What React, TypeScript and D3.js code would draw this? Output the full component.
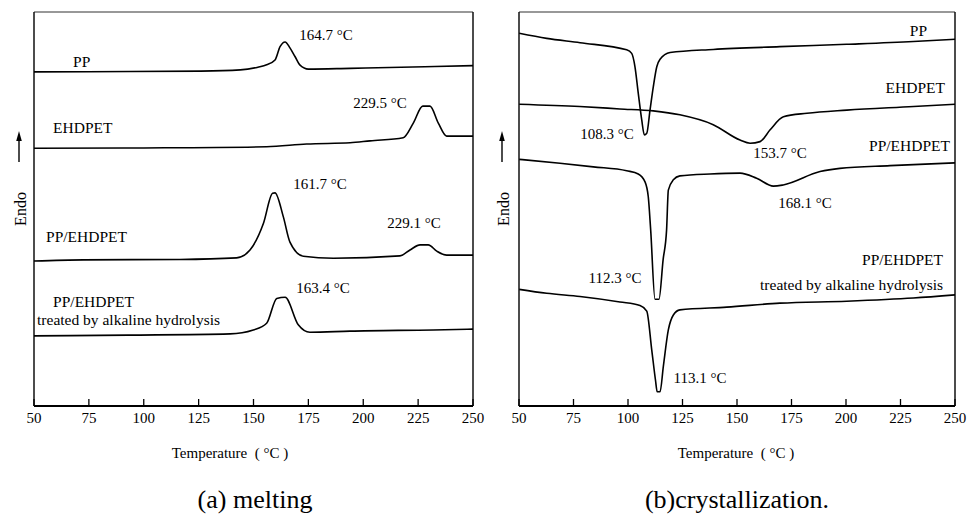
import React from "react";
import * as d3 from "d3";

// ---- axis ----
const TEMP_TICKS = [50, 75, 100, 125, 150, 175, 200, 225, 250];

// ---- (a) melting curves: temperature (°C) and heat flow (arb. units, endo up) ----
const meltPP_T = [50, 94, 126, 144, 152, 156, 159.8, 162.1, 164.4, 166.6, 168.9, 171.2, 175, 194, 228, 250];
const meltPP_V = [8.48, 8.49, 8.5, 8.53, 8.6, 8.66, 8.78, 9.12, 9.24, 9.09, 8.87, 8.65, 8.55, 8.57, 8.61, 8.64];

const meltEH_T = [50, 100, 156, 174.2, 194, 203.1, 218.2, 222.8, 227.1, 230.4, 234.2, 238, 250];
const meltEH_V = [6.54, 6.55, 6.58, 6.65, 6.68, 6.73, 6.81, 7.18, 7.61, 7.61, 7.18, 6.85, 6.85];

const meltBlend_T = [50, 72.5, 116.5, 142.3, 148.4, 154.5, 158.7, 159.8, 163.6, 166.6, 172.7, 186.4, 216.7, 221.3, 225.9, 229.6, 233.5, 238, 250];
const meltBlend_V = [3.68, 3.71, 3.72, 3.76, 3.96, 4.63, 5.4, 5.41, 4.8, 4.16, 3.8, 3.75, 3.81, 3.96, 4.09, 4.09, 3.93, 3.83, 3.83];

const meltTreated_T = [50, 92.9, 139.3, 149.9, 156, 160.6, 164.4, 170.4, 175.7, 194, 231.9, 250];
const meltTreated_V = [1.78, 1.8, 1.83, 1.93, 2.1, 2.73, 2.76, 2.06, 1.87, 1.9, 1.93, 1.95];

// ---- (b) crystallization curves ----
const crysPP_T = [50.1, 62.7, 78, 99.4, 101.7, 103.2, 104.7, 106.3, 107.5, 108.6, 110.1, 111.6, 113.2, 114.7, 119.3, 139.1, 169.7, 200.3, 230.9, 250];
const crysPP_V = [9.46, 9.33, 9.22, 9.04, 8.95, 8.61, 7.94, 7.26, 6.88, 6.92, 7.51, 8.1, 8.61, 8.8, 8.97, 9.05, 9.12, 9.18, 9.25, 9.31];

const crysEH_T = [50.1, 77.9, 96.3, 111.6, 123.8, 139.1, 151.4, 156, 160.6, 165.2, 171.3, 182.1, 200.4, 231, 250];
const crysEH_V = [7.66, 7.6, 7.54, 7.49, 7.39, 7.14, 6.75, 6.67, 6.71, 7.01, 7.34, 7.43, 7.51, 7.6, 7.66];

const crysBlend_T = [50.1, 68.8, 84.1, 99.4, 104.7, 107.8, 109.3, 110.4, 112.4, 114.2, 116.1, 117.7, 118.5, 120.8, 123.8, 137.6, 151.4, 159, 166.7, 171.2, 188.1, 197.2, 220.2, 250];
const crysBlend_V = [6.26, 6.16, 6.07, 5.97, 5.89, 5.69, 5.31, 4.47, 2.71, 2.71, 3.71, 4.47, 5.48, 5.74, 5.84, 5.89, 5.91, 5.78, 5.58, 5.61, 5.95, 6.03, 6.1, 6.17];

const crysTreated_T = [50.1, 62.7, 78, 96.3, 105.5, 108.6, 110.9, 112.6, 113.4, 114.7, 116.2, 118.5, 120.8, 123.8, 145.3, 169.7, 200.3, 230.9, 250];
const crysTreated_V = [2.96, 2.86, 2.78, 2.64, 2.55, 2.41, 1.42, 0.66, 0.36, 0.36, 1.0, 1.93, 2.31, 2.44, 2.51, 2.61, 2.66, 2.74, 2.82];

// ---- annotations (text, temperature, value) ----
const meltPeakLabels: [string, number, number][] = [
  ["164.7 °C", 183.0, 9.42],
  ["229.5 °C", 207.6, 7.69],
  ["161.7 °C", 180.3, 5.63],
  ["229.1 °C", 223.1, 4.64],
  ["163.4 °C", 181.7, 3.0],
];
const meltCurveLabels: [string, number, number][] = [
  ["PP", 67.8, 8.73],
  ["EHDPET", 58.7, 7.06],
  ["PP/EHDPET", 55.5, 4.29],
  ["PP/EHDPET", 58.7, 2.66],
  ["treated by alkaline hydrolysis", 51.4, 2.2],
];
const crysPeakLabels: [string, number, number][] = [
  ["108.3 °C", 90.4, 6.9],
  ["153.7 °C", 169.7, 6.42],
  ["168.1 °C", 181.2, 5.15],
  ["112.3 °C", 94.0, 3.25],
  ["113.1 °C", 133.0, 0.71],
];
const crysCurveLabels: [string, number, number][] = [
  ["PP", 237.2, 9.54],
  ["EHDPET", 245.4, 8.07],
  ["PP/EHDPET", 247.7, 6.6],
  ["PP/EHDPET", 244.5, 3.71],
  ["treated by alkaline hydrolysis", 244.5, 3.07],
];

const FONT = "'Liberation Serif', 'Times New Roman', Tinos, 'DejaVu Serif', serif";

type PanelProps = {
  x0: number;
  x1: number;
  curves: [number[], number[]][];
  peaks: [string, number, number][];
  names: [string, number, number][];
  nameAnchor: "start" | "end";
  endoX: number;
  xLabelX: number;
  caption: string;
  captionX: number;
};

const txt = (size: number) => ({ fontFamily: FONT, fontSize: size + "px" });

function Panel(p: PanelProps) {
  const top = 12;
  const bottom = 406;
  const x = d3.scaleLinear().domain([50, 250]).range([p.x0, p.x1]);
  const y = d3.scaleLinear().domain([0, 10]).range([bottom, top]);
  const line = d3
    .line<[number, number]>()
    .x((d) => x(d[0]))
    .y((d) => y(d[1]))
    .curve(d3.curveMonotoneX);

  return (
    <g>
      {/* frame */}
      <line x1={p.x0} x2={p.x1} y1={top} y2={top} stroke="#333" strokeWidth={1.2} />
      <line x1={p.x0} x2={p.x0} y1={top} y2={bottom} stroke="#111" strokeWidth={1.5} />
      <line x1={p.x1} x2={p.x1} y1={top} y2={bottom} stroke="#111" strokeWidth={1.5} />
      <line x1={p.x0} x2={p.x1} y1={bottom} y2={bottom} stroke="#000" strokeWidth={2} />
      {TEMP_TICKS.map((t) => (
        <g key={t}>
          <line x1={x(t)} x2={x(t)} y1={bottom} y2={bottom - 7} stroke="#000" strokeWidth={1.3} />
          <text x={x(t)} y={418} dy="0.35em" textAnchor="middle" style={txt(15)} fill="#000">
            {t}
          </text>
        </g>
      ))}
      {/* curves */}
      {p.curves.map(([ts, vs], i) => (
        <path
          key={i}
          d={line(ts.map((t, j) => [t, vs[j]] as [number, number])) || ""}
          fill="none"
          stroke="#000"
          strokeWidth={1.6}
          strokeLinejoin="round"
        />
      ))}
      {p.peaks.map(([s, t, v], i) => (
        <text key={"pk" + i} x={x(t)} y={y(v)} dy="0.35em" textAnchor="middle" style={txt(15)} fill="#000">
          {s}
        </text>
      ))}
      {p.names.map(([s, t, v], i) => (
        <text key={"nm" + i} x={x(t)} y={y(v)} dy="0.35em" textAnchor={p.nameAnchor} style={txt(15.5)} fill="#000">
          {s}
        </text>
      ))}
      {/* Endo arrow + label */}
      <line x1={p.endoX} x2={p.endoX} y1={162} y2={138} stroke="#000" strokeWidth={1.4} />
      <path d={`M${p.endoX},${131} L${p.endoX - 2.8},${141} L${p.endoX + 2.8},${141} Z`} fill="#000" />
      <text
        transform={`translate(${p.endoX + 1},${209}) rotate(-90)`}
        dy="0.35em"
        textAnchor="middle"
        style={txt(16)}
        fill="#000"
      >
        Endo
      </text>
      {/* axis title */}
      <text
        x={p.xLabelX}
        y={453}
        dy="0.35em"
        textAnchor="middle"
        style={{ ...txt(15), whiteSpace: "pre" }}
        fill="#000"
      >
        {"Temperature  ( °C )"}
      </text>
      <text x={p.captionX} y={499} dy="0.35em" textAnchor="middle" style={txt(26)} fill="#000">
        {p.caption}
      </text>
    </g>
  );
}

export default function App() {
  const meltCurves: [number[], number[]][] = [
    [meltPP_T, meltPP_V],
    [meltEH_T, meltEH_V],
    [meltBlend_T, meltBlend_V],
    [meltTreated_T, meltTreated_V],
  ];
  const crysCurves: [number[], number[]][] = [
    [crysPP_T, crysPP_V],
    [crysEH_T, crysEH_V],
    [crysBlend_T, crysBlend_V],
    [crysTreated_T, crysTreated_V],
  ];
  return (
    <svg width={973} height={514} style={{ position: "absolute", left: 0, top: 0, background: "#fff" }}>
      <rect x={0} y={0} width={973} height={514} fill="#fff" />
      <Panel
        x0={34}
        x1={473}
        curves={meltCurves}
        peaks={meltPeakLabels}
        names={meltCurveLabels}
        nameAnchor="start"
        endoX={19}
        xLabelX={230}
        caption="(a) melting"
        captionX={255}
      />
      <Panel
        x0={519}
        x1={955}
        curves={crysCurves}
        peaks={crysPeakLabels}
        names={crysCurveLabels}
        nameAnchor="end"
        endoX={502}
        xLabelX={736}
        caption="(b)crystallization."
        captionX={737}
      />
    </svg>
  );
}
